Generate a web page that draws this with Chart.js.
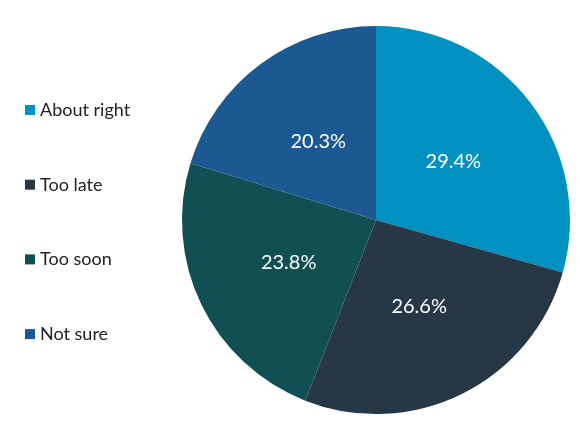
<!DOCTYPE html>
<html>
<head>
<meta charset="utf-8">
<script src="https://cdn.jsdelivr.net/npm/chart.js@4"></script>
<style>
    html, body { margin: 0; padding: 0; background: #fff; }
    #wrap { width: 580px; height: 435px; position: relative; }
</style>
</head>
<body>
<div id="wrap"><canvas id="pieChart"></canvas></div>
<script>
const categories = ['About right', 'Too late', 'Too soon', 'Not sure'];
const shares = [29.4, 26.6, 23.8, 20.3];
const sliceColors = ['#0091c1', '#263746', '#114f55', '#1c5891'];

const FONT = "Lato, 'Open Sans', sans-serif";

// slice labels, placed at each arc's centre point
const sliceLabels = {
    id: 'sliceLabels',
    afterDatasetsDraw(chart) {
        const ctx = chart.ctx;
        const meta = chart.getDatasetMeta(0);
        ctx.save();
        ctx.font = `20px ${FONT}`;
        ctx.fillStyle = '#ffffff';
        ctx.textAlign = 'center';
        ctx.textBaseline = 'middle';
        meta.data.forEach((arc, i) => {
            const p = arc.getCenterPoint();
            ctx.fillText(shares[i].toFixed(1) + '%', p.x, p.y);
        });
        ctx.restore();
    }
};

// legend on the left, spread out like the original
const sideLegend = {
    id: 'sideLegend',
    afterDraw(chart) {
        const ctx = chart.ctx;
        ctx.save();
        ctx.font = `18px ${FONT}`;
        ctx.textBaseline = 'middle';
        categories.forEach((name, i) => {
            const y = 110 + i * 74.7;
            ctx.fillStyle = sliceColors[i];
            ctx.fillRect(25, y - 5, 10, 10);
            ctx.fillStyle = '#222222';
            ctx.fillText(name, 40, y);
        });
        ctx.restore();
    }
};

new Chart(document.getElementById('pieChart'), {
    type: 'pie',
    data: {
        labels: categories,
        datasets: [{
            data: shares,
            backgroundColor: sliceColors,
            borderWidth: 0
        }]
    },
    options: {
        responsive: true,
        maintainAspectRatio: false,
        animation: false,
        layout: {
            padding: { left: 182, right: 10, top: 26, bottom: 21 }
        },
        plugins: {
            legend: { display: false },
            tooltip: { enabled: false }
        }
    },
    plugins: [sliceLabels, sideLegend]
});
</script>
</body>
</html>
